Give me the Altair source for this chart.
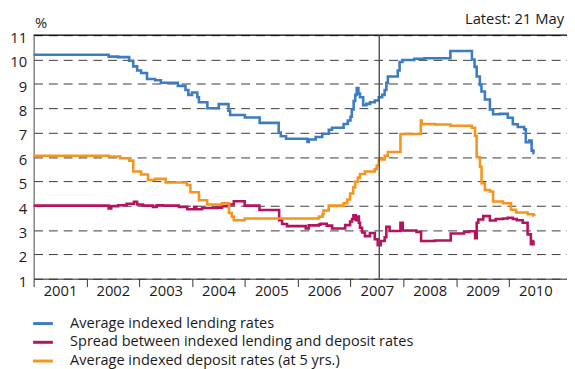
import altair as alt
import pandas as pd

# Average indexed lending rates (change points, step-after)
lend_x = [2001.00, 2002.42, 2002.60, 2002.81, 2002.886, 2002.96, 2003.035, 2003.147, 2003.30, 2003.41,
          2003.73, 2003.875, 2003.93, 2004.00, 2004.10, 2004.13, 2004.29, 2004.505, 2004.69, 2004.72,
          2005.00, 2005.28, 2005.64, 2005.68, 2005.78, 2006.185, 2006.21, 2006.34, 2006.465, 2006.59,
          2006.65, 2006.87, 2006.95, 2007.00, 2007.025, 2007.06, 2007.09, 2007.118, 2007.15, 2007.18,
          2007.24, 2007.30, 2007.37, 2007.46, 2007.535, 2007.60, 2007.647, 2007.68, 2007.708, 2007.895,
          2007.93, 2007.983, 2008.207, 2008.40, 2008.892, 2009.30, 2009.35, 2009.39, 2009.45, 2009.48,
          2009.545, 2009.64, 2009.70, 2009.825, 2009.98, 2010.074, 2010.168, 2010.29, 2010.32, 2010.385,
          2010.43, 2010.466, 2010.48]
lend_y = [10.2, 10.12, 10.1, 9.95, 9.72, 9.55, 9.45, 9.2, 9.15, 9.05,
          8.92, 8.75, 8.55, 8.65, 8.45, 8.25, 8.0, 8.17, 7.9, 7.72,
          7.62, 7.40, 7.0, 6.85, 6.75, 6.62, 6.72, 6.82, 6.95, 7.12,
          7.2, 7.35, 7.5, 7.65, 7.95, 8.3, 8.55, 8.83, 8.6, 8.45,
          8.12, 8.18, 8.25, 8.32, 8.45, 8.55, 8.75, 9.05, 9.3, 9.55,
          9.9, 9.98, 10.03, 10.05, 10.35, 10.0, 9.7, 9.3, 8.96, 8.69,
          8.36, 7.95, 7.75, 7.77, 7.61, 7.34, 7.23, 7.14, 6.6, 6.67,
          6.26, 6.15, 6.15]

# Spread between indexed lending and deposit rates
spread_x = [2001.00, 2002.42, 2002.47, 2002.60, 2002.76, 2002.90, 2002.96, 2003.07, 2003.26, 2003.33,
            2003.45, 2003.75, 2003.91, 2004.04, 2004.08, 2004.19, 2004.47, 2004.566, 2004.69, 2004.79,
            2004.996, 2005.276, 2005.649, 2005.705, 2005.798, 2006.153, 2006.209, 2006.40, 2006.433, 2006.55,
            2006.652, 2006.90, 2006.993, 2007.03, 2007.055, 2007.10, 2007.124, 2007.16, 2007.18, 2007.22,
            2007.273, 2007.367, 2007.46, 2007.516, 2007.572, 2007.647, 2007.679, 2007.74, 2007.946, 2007.99,
            2008.25, 2008.337, 2008.60, 2008.898, 2009.15, 2009.25, 2009.359, 2009.39, 2009.42, 2009.514,
            2009.639, 2009.75, 2009.887, 2009.98, 2010.074, 2010.15, 2010.261, 2010.354, 2010.416, 2010.466,
            2010.48]
spread_y = [4.0, 3.88, 3.98, 4.02, 4.08, 4.16, 4.05, 4.0, 3.95, 4.02,
            4.0, 3.95, 3.85, 3.95, 3.85, 3.9, 3.92, 3.98, 4.05, 4.18,
            4.0, 3.82, 3.4, 3.25, 3.16, 3.06, 3.19, 3.22, 3.26, 3.18,
            3.06, 3.2, 3.35, 3.45, 3.6, 3.4, 3.55, 3.3, 3.09, 2.9,
            2.75, 2.88, 2.62, 2.38, 2.55, 2.7, 3.13, 2.96, 3.3, 2.98,
            2.92, 2.55, 2.57, 2.86, 2.92, 2.95, 2.66, 3.3, 3.43, 3.57,
            3.39, 3.45, 3.47, 3.5, 3.45, 3.4, 3.3, 2.82, 2.42, 2.55,
            2.55]

# Average indexed deposit rates (at 5 yrs.)
dep_x = [2001.00, 2002.42, 2002.64, 2002.81, 2002.886, 2003.035, 2003.166, 2003.30, 2003.50, 2003.90,
         2003.969, 2004.131, 2004.286, 2004.566, 2004.70, 2004.753, 2004.79, 2004.996, 2006.401, 2006.47,
         2006.489, 2006.588, 2006.868, 2006.937, 2006.993, 2007.05, 2007.087, 2007.14, 2007.18, 2007.273,
         2007.46, 2007.497, 2007.535, 2007.647, 2007.708, 2007.946, 2008.332, 2008.35, 2008.60, 2008.892,
         2009.296, 2009.359, 2009.389, 2009.452, 2009.482, 2009.545, 2009.639, 2009.70, 2009.887, 2010.04,
         2010.136, 2010.354, 2010.466, 2010.48]
dep_y = [6.05, 6.02, 5.95, 5.85, 5.4, 5.28, 5.05, 5.1, 4.95, 4.85,
         4.55, 4.22, 4.05, 4.1, 3.7, 3.55, 3.4, 3.47, 3.55, 3.65,
         3.8, 4.0, 4.1, 4.25, 4.5, 4.75, 4.98, 5.15, 5.3, 5.4,
         5.5, 5.65, 5.9, 6.05, 6.2, 6.94, 7.5, 7.35, 7.33, 7.28,
         7.2, 6.87, 6.0, 5.6, 4.92, 4.64, 4.58, 4.17, 4.1, 3.83,
         3.72, 3.65, 3.6, 3.58]

series_names = ["Average indexed lending rates",
                "Spread between indexed lending and deposit rates",
                "Average indexed deposit rates (at 5 yrs.)"]
series_colors = ["#3c7cc2", "#b5135e", "#f7941d"]

years = list(range(2001, 2011))
y_ticks = list(range(1, 12))
crisis_x = [2007.545]
x_domain = [2001, 2011.1]
y_domain = [1, 11]

rows = []
for name, xs, ys in zip(series_names, [lend_x, spread_x, dep_x], [lend_y, spread_y, dep_y]):
    for i, (a, b) in enumerate(zip(xs, ys)):
        rows.append({"series": name, "x": a, "y": b, "order": i})
df = pd.DataFrame(rows)

FONT = "Open Sans"

xscale = alt.Scale(domain=x_domain, nice=False, zero=False)
yscale = alt.Scale(domain=y_domain, nice=False, zero=False)

lines = alt.Chart(df).mark_line(interpolate="step-after", strokeWidth=2.6).encode(
    x=alt.X("x:Q", scale=xscale,
            axis=alt.Axis(values=years, tickCount=20, format="d", title=None, grid=False,
                          labelOffset=26.8, labelFlush=False, labelOverlap=False,
                          tickSize=8, tickColor="#333", domainColor="#333",
                          labelFontSize=15, labelColor="#1a1a1a", labelPadding=-3,
                          labelFont=FONT)),
    y=alt.Y("y:Q", scale=yscale,
            axis=alt.Axis(values=y_ticks, tickCount=20, format="d", title="%", titleAngle=0,
                          titleX=7, titleY=-13,
                          titleAlign="center", titleBaseline="middle", titleFontSize=15,
                          titleFontWeight="normal", titleFont=FONT, titleColor="#1a1a1a",
                          ticks=False, labelPadding=7, labelFontSize=15, labelFont=FONT,
                          labelColor="#1a1a1a", domainColor="#555", labelOverlap=False,
                          labelOffset=2.5, labelFlush=False,
                          grid=True, gridDash=[9, 6], gridColor="#3a3a3a", gridWidth=1)),
    color=alt.Color("series:N",
                    scale=alt.Scale(domain=series_names, range=series_colors),
                    legend=alt.Legend(orient="none", legendX=-2, legendY=281, title=None,
                                      symbolType="stroke", symbolSize=400, symbolStrokeWidth=3,
                                      labelFontSize=14.7, labelFont=FONT, labelColor="#1a1a1a",
                                      labelOffset=16, rowPadding=-3,
                                      padding=0, labelLimit=500)),
    order="order:Q",
)

top_df = pd.DataFrame({"x": [x_domain[0]], "x2": [x_domain[1]], "y": [y_domain[1]]})
top_rule = alt.Chart(top_df).mark_rule(color="#000", strokeWidth=1.2).encode(
    x=alt.X("x:Q", scale=xscale), x2="x2:Q", y=alt.Y("y:Q", scale=yscale))

vline_df = pd.DataFrame({"x": crisis_x, "y": [y_domain[0]], "y2": [y_domain[1]]})
vline = alt.Chart(vline_df).mark_rule(color="#555", strokeWidth=1.5).encode(
    x=alt.X("x:Q", scale=xscale), y=alt.Y("y:Q", scale=yscale), y2="y2:Q")

latest = alt.Chart(pd.DataFrame({"t": ["Latest: 21 May"]})).mark_text(
    align="right", baseline="middle", fontSize=15, font=FONT, color="#1a1a1a").encode(
    text="t:N", x=alt.value(538), y=alt.value(-16))

chart = alt.layer(lines, top_rule, vline, latest).properties(
    width=541, height=247,
    padding={"left": 26, "top": 25, "right": 0, "bottom": 89},
    autosize=alt.AutoSizeParams(type="none"),
).configure_view(stroke=None).configure(background="white")

chart.save("out.html", embed_options={"renderer": "svg", "actions": False})
